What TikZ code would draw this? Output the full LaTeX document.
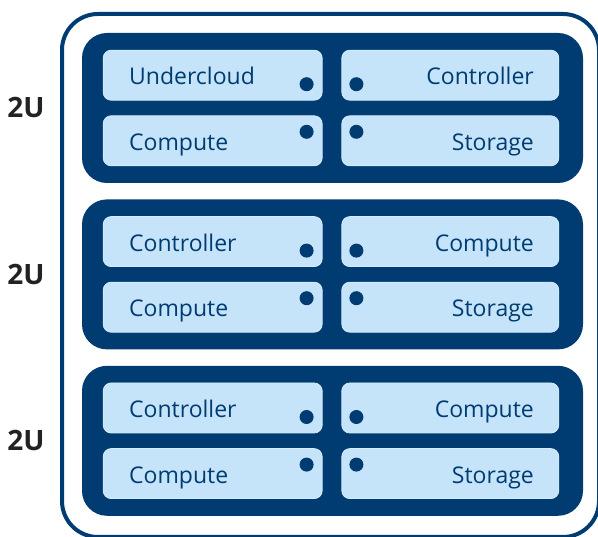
\documentclass[tikz,border=0pt]{standalone}
\usepackage{fontspec}
\setmainfont{Open Sans}
\usepackage{xcolor}
\usepackage{tikz}
\usetikzlibrary{positioning, calc}

\definecolor{rackblue}{RGB}{0,60,113}
\definecolor{slotblue}{RGB}{197,228,250}
\definecolor{slotedge}{RGB}{215,236,252}
\definecolor{unitgray}{RGB}{34,34,34}

\begin{document}
\begin{tikzpicture}[
    x=1pt, y=-1pt,
    node distance=16pt,
    rack/.style={draw=rackblue, line width=4pt, rounded corners=36pt},
    server/.style={fill=rackblue, rounded corners=25pt, minimum width=501pt, minimum height=150pt, inner sep=0pt},
    slot/.style={fill=slotblue, draw=slotedge, line width=0.8pt, rounded corners=8pt, minimum height=50pt, inner ysep=0pt, text width=167pt, text height=21pt, text depth=2pt, text=rackblue, font=\fontsize{23}{26}\selectfont},
    lslot/.style={slot, minimum width=219pt, inner xsep=26pt, align=left},
    rslot/.style={slot, minimum width=217pt, inner xsep=25pt, align=right},
    dot/.style={circle, fill=rackblue, minimum size=14pt, inner sep=0pt},
    unit/.style={font=\fontsize{28}{32}\selectfont\bfseries, text=unitgray, inner sep=0pt}
]
    \useasboundingbox (0,0) rectangle (598,537);

    % Rack frame
    \draw[rack] (62,14) rectangle (599,537);

    % Servers
    \node[server] (srv1) at (332.5,108) {};
    \node[server, below=of srv1] (srv2) {};
    \node[server, below=of srv2] (srv3) {};

    % Height labels
    \node[unit, left=37pt of srv1] (u1) {2U};
    \node[unit, left=37pt of srv2] (u2) {2U};
    \node[unit, left=37pt of srv3] (u3) {2U};

    % Server 1
    \node[lslot, below right=17pt and 21pt of srv1.north west] (s1a) {Undercloud};
    \node[lslot, above right=17pt and 21pt of srv1.south west] (s1c) {Compute};
    \node[rslot, below left=17pt and 24pt of srv1.north east] (s1b) {Controller};
    \node[rslot, above left=17pt and 24pt of srv1.south east] (s1d) {Storage};

    % Server 2
    \node[lslot, below right=17pt and 21pt of srv2.north west] (s2a) {Controller};
    \node[lslot, above right=17pt and 21pt of srv2.south west] (s2c) {Compute};
    \node[rslot, below left=17pt and 24pt of srv2.north east] (s2b) {Compute};
    \node[rslot, above left=17pt and 24pt of srv2.south east] (s2d) {Storage};

    % Server 3
    \node[lslot, below right=17pt and 21pt of srv3.north west] (s3a) {Controller};
    \node[lslot, above right=17pt and 21pt of srv3.south west] (s3c) {Compute};
    \node[rslot, below left=17pt and 24pt of srv3.north east] (s3b) {Compute};
    \node[rslot, above left=17pt and 24pt of srv3.south east] (s3d) {Storage};

    % Status lights
    \foreach \s in {1,2,3}{
        \node[dot] (d\s a) at ($(s\s a.east)+(-16,9)$) {};
        \node[dot] (d\s c) at ($(s\s c.east)+(-16,-9)$) {};
        \node[dot] (d\s b) at ($(s\s b.west)+(15,9)$) {};
        \node[dot] (d\s d) at ($(s\s d.west)+(15,-9)$) {};
    }
\end{tikzpicture}
\end{document}
